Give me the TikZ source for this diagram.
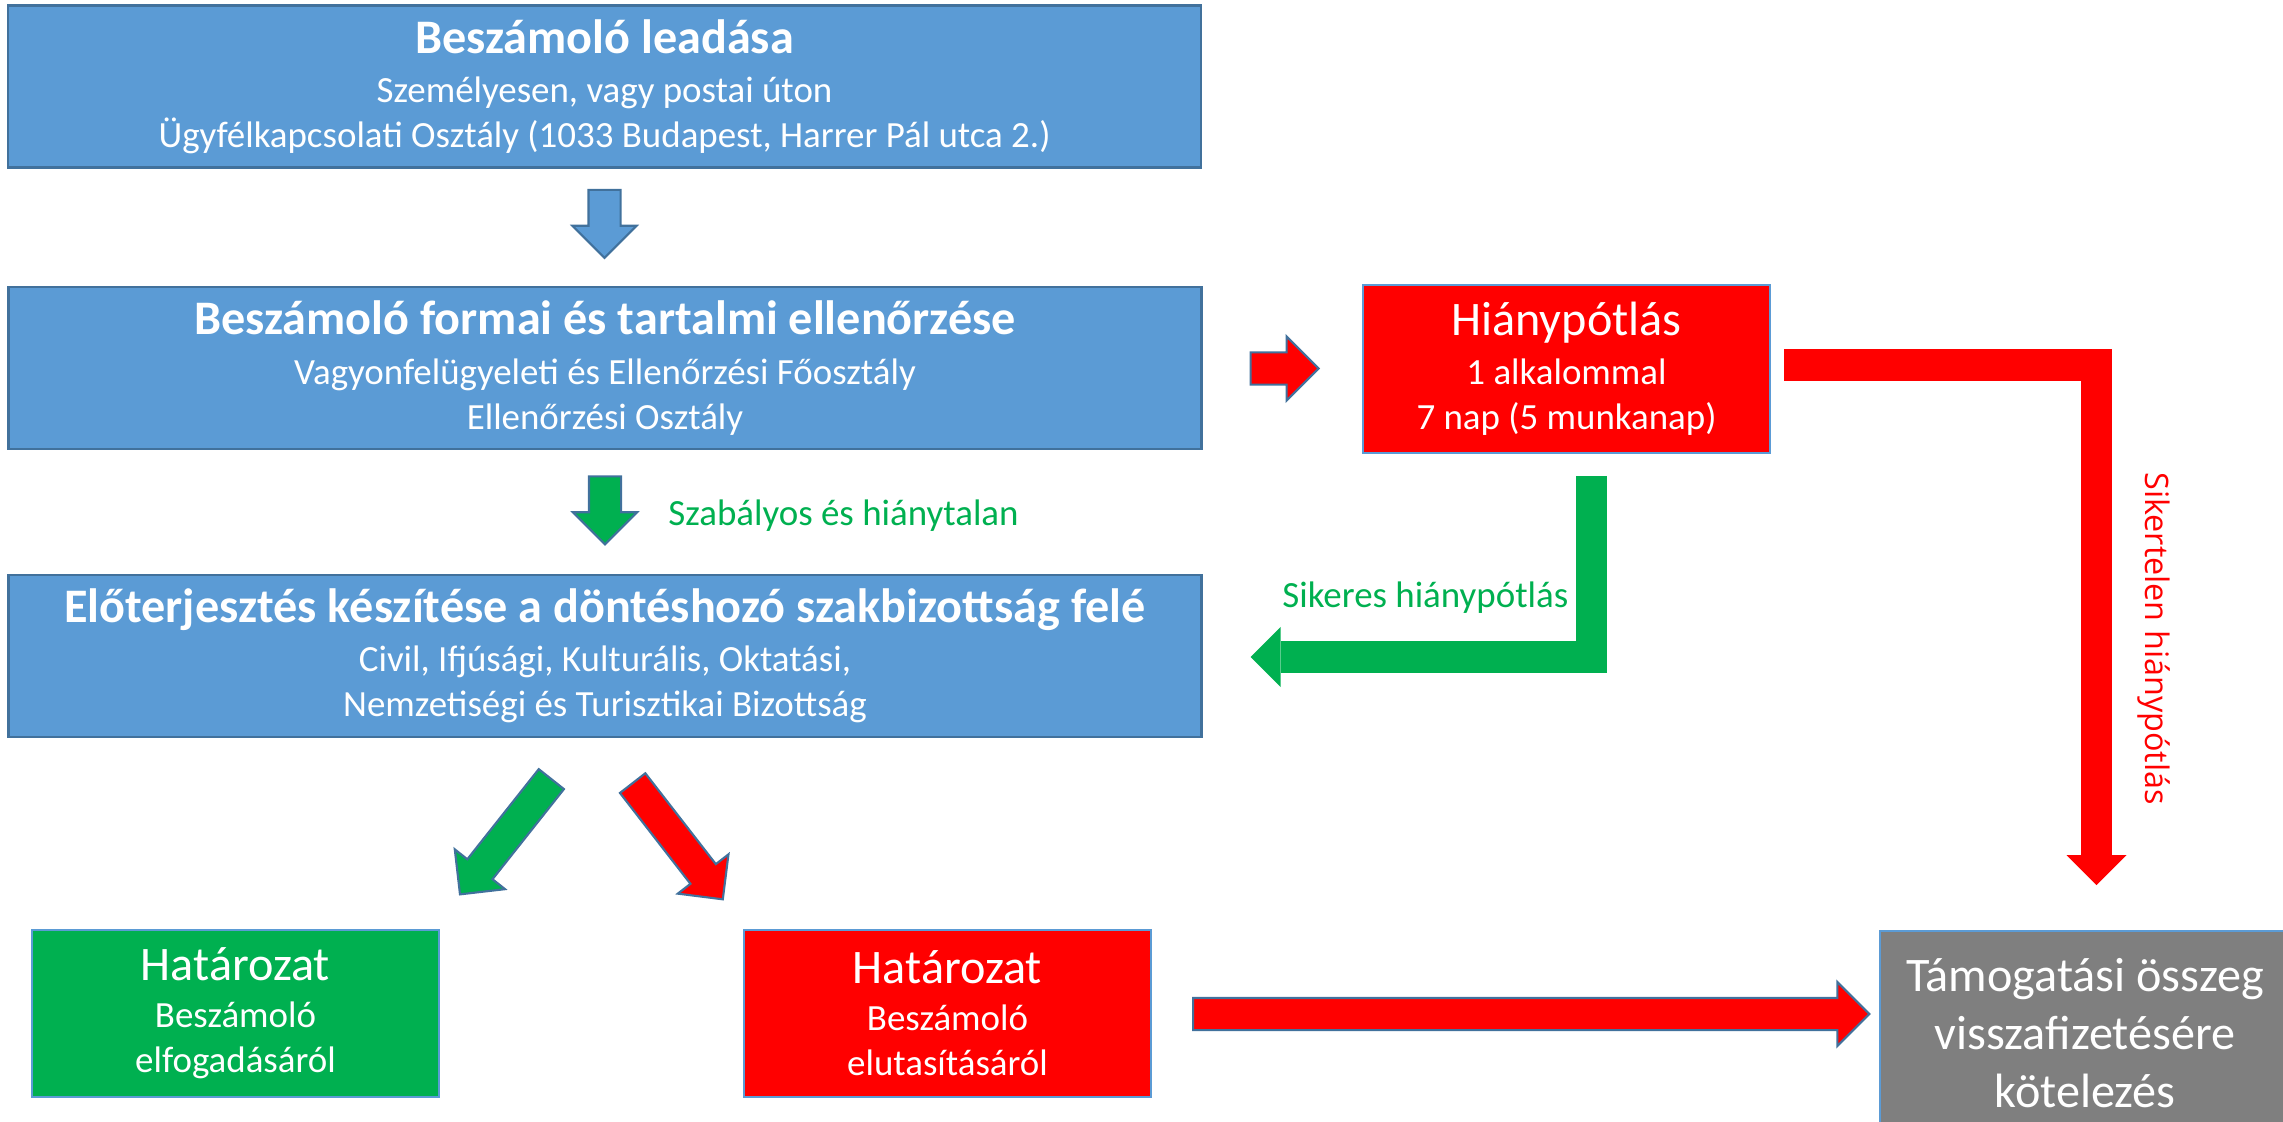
\documentclass[tikz,border=0pt]{standalone}
\usepackage{fontspec}
\setmainfont{Carlito}
\newfontfamily\labelfont{Open Sans}
\usetikzlibrary{arrows.meta,shapes.arrows,calc}
\definecolor{boxblue}{rgb}{0.357,0.608,0.835}
\definecolor{boxedge}{rgb}{0.255,0.443,0.612}
\definecolor{okgreen}{rgb}{0,0.69,0.314}
\definecolor{ffqqqq}{rgb}{1,0,0}
\definecolor{paygrey}{rgb}{0.498,0.498,0.498}
\newcommand{\subsize}{\fontsize{10.5}{12.8}\selectfont}
\newcommand{\headsize}{\fontsize{13.7}{16.5}\selectfont}

\begin{document}
\begin{tikzpicture}[x=0.01cm,y=-0.01cm,
		box/.style={inner sep=0pt,align=center,text=white,font=\subsize},
		bluebox/.style={box,draw=boxedge,fill=boxblue,line width=0.7pt,minimum width=11.92cm,minimum height=1.62cm},
		smallbox/.style={box,draw=boxblue,line width=0.5pt,minimum width=4.07cm,minimum height=1.67cm},
		blockarrow/.style={single arrow,anchor=tail,draw=boxedge,line width=0.6pt,inner xsep=0pt,inner ysep=0.15cm,single arrow head extend=0.16cm,minimum height=0.68cm},
		bendarrow/.style={line width=0.31cm,line join=miter,line cap=butt,-{Triangle[length=0.3cm,width=0.6cm,line width=0pt]}}]
		\clip (0,0) rectangle (2283,1122);
		\node[bluebox] (b1) at (604.5,86.5) {{\headsize\bfseries Beszámoló leadása}\\[1.2pt]Személyesen, vagy postai úton\\Ügyfélkapcsolati Osztály (1033 Budapest, Harrer Pál utca 2.)};
		\node[bluebox] (b2) at (605,368) {{\headsize\bfseries Beszámoló formai és tartalmi ellenőrzése}\\[1.2pt]Vagyonfelügyeleti és Ellenőrzési Főosztály\\Ellenőrzési Osztály};
		\node[bluebox] (b3) at (605,656) {{\headsize\bfseries Előterjesztés készítése a döntéshozó szakbizottság felé}\\[1.2pt]Civil, Ifjúsági, Kulturális, Oktatási,\\Nemzetiségi és Turisztikai Bizottság};
		\node[smallbox,fill=ffqqqq,minimum height=1.68cm] (hp) at (1566.5,369) {{\headsize Hiánypótlás}\\[1.2pt]1 alkalommal\\7 nap (5 munkanap)};
		\node[smallbox,fill=okgreen] (ok) at (235.5,1013.5) {{\headsize Határozat}\\[0.6pt]Beszámoló\\elfogadásáról};
		\node[smallbox,fill=ffqqqq] (rej) at (947.5,1013.5) {{\headsize Határozat}\\[0.6pt]Beszámoló\\elutasításáról};
		\node[smallbox,fill=paygrey,font=\headsize,minimum width=4.1cm,minimum height=2.04cm] (pay) at (2085,1033) {Támogatási összeg\\visszafizetésére\\kötelezés};
		\node[blockarrow,fill=boxblue,rotate=-90] (a1) at ($(b1.south)+(0,20)$) {};
		\node[blockarrow,fill=ffqqqq] (a2) at ($(b2.east)+(47,0.5)$) {};
		\node[blockarrow,fill=okgreen,rotate=-90] (a3) at ($(b2.south)+(0,25)$) {};
		\node[blockarrow,fill=okgreen,rotate=231.6,minimum height=1.47cm] (a4) at ($(b3.south)+(-53,40)$) {};
		\node[blockarrow,fill=ffqqqq,rotate=-52.2,minimum height=1.47cm] (a5) at ($(b3.south)+(27,44)$) {};
		\node[blockarrow,fill=ffqqqq,minimum height=6.76cm] (a6) at ($(rej.east)+(40,0.5)$) {};
		\draw[bendarrow,okgreen] ($(hp.south)+(25,22)$) |- ($(b3.east)+(48,1)$);
		\draw[bendarrow,ffqqqq] ($(hp.east)+(13,-4)$) -| ($(pay.north)+(11.5,-45)$);
		\node[anchor=base west,text=okgreen,font=\subsize] (l1) at (656,525) {Szabályos és hiánytalan};
		\node[anchor=base west,text=okgreen,font=\subsize] (l2) at (1270,607) {Sikeres hiánypótlás};
		\node[anchor=base west,rotate=-90,text=ffqqqq,font=\labelfont\fontsize{9.2}{11}\selectfont] (l3) at (2145,460) {Sikertelen hiánypótlás};
	\end{tikzpicture}
\end{document}
